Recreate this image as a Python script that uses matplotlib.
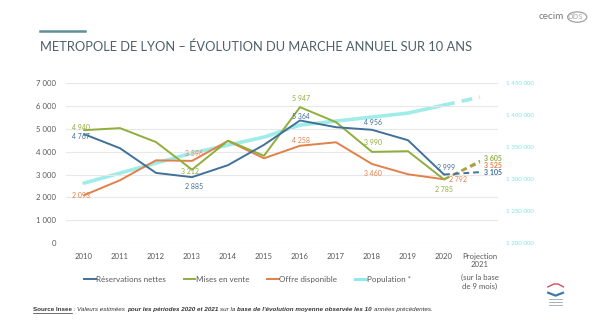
import matplotlib
matplotlib.use("Agg")
import matplotlib.pyplot as plt
from matplotlib.lines import Line2D
from matplotlib.ticker import FuncFormatter

plt.rcParams['font.family'] = ['Lato', 'DejaVu Sans']

# Données annuelles Métropole de Lyon
categories = ['2010', '2011', '2012', '2013', '2014', '2015', '2016', '2017',
              '2018', '2019', '2020', 'Projection\n2021']
reservations = [4767, 4150, 3070, 2885, 3410, 4300, 5364, 5070, 4956, 4500, 2999, 3105]
mises_en_vente = [4940, 5030, 4420, 3212, 4480, 3820, 5947, 5290, 3990, 4020, 2785, 3605]
offre = [2093, 2750, 3620, 3596, 4470, 3710, 4258, 4410, 3460, 3010, 2792, 3525]
population = [1293700, 1309400, 1325000, 1340600, 1353100, 1365600, 1384400,
              1390600, 1396900, 1403100, 1415600, 1428100]

c_res = '#41709a'
c_mev = '#8fae3c'
c_off = '#e2804a'
c_pop = '#8fe9e6'
c_txt = '#595959'

fig = plt.figure(figsize=(6.0, 3.22), dpi=100)
fig.patch.set_facecolor('white')
ax = fig.add_axes([0.11, 0.245, 0.72, 0.497])
ax2 = ax.twinx()

x = list(range(len(categories)))
hist = slice(0, 11)
proj = slice(10, 12)


def draw_series(axis, vals, color, lw, alpha=1.0):
    axis.plot(x[hist], vals[hist], color=color, lw=lw, alpha=alpha,
              solid_capstyle='round', solid_joinstyle='round')
    axis.plot(x[proj], vals[proj], color=color, lw=lw, alpha=alpha, ls=(0, (3, 2)))


draw_series(ax2, population, c_pop, 2.6, 0.85)
draw_series(ax, offre, c_off, 1.4)
draw_series(ax, mises_en_vente, c_mev, 1.4)
draw_series(ax, reservations, c_res, 1.4)

ax.set_xlim(-0.5, 11.5)
ax.set_ylim(0, 7000)
ax2.set_ylim(1200000, 1450000)
ax.set_yticks(range(0, 7001, 1000))
ax2.set_yticks(range(1200000, 1450001, 50000))


def fmt_space(v, pos=None):
    return f"{int(v):,}".replace(',', ' ')


ax.yaxis.set_major_formatter(FuncFormatter(fmt_space))
ax2.yaxis.set_major_formatter(FuncFormatter(fmt_space))
ax.set_xticks(x)
ax.set_xticklabels(categories, linespacing=1.2)

ax.grid(axis='y', color='#e8e8e8', lw=0.8)
ax.set_axisbelow(True)
for a in (ax, ax2):
    for s in a.spines.values():
        s.set_visible(False)
ax.tick_params(axis='both', length=0, labelsize=5.6, labelcolor=c_txt)
ax.tick_params(axis='y', pad=7)
ax.tick_params(axis='x', pad=7)
ax2.tick_params(axis='y', length=0, labelsize=4.4, labelcolor='#7fe3e3', pad=6)
ax.set_zorder(ax2.get_zorder() + 1)
ax.patch.set_visible(False)

ax.text(x[11], -1350, "(sur la base\nde 9 mois)", ha='center', va='top',
        fontsize=5.6, color=c_txt, linespacing=1.25)

# étiquettes de valeurs
fs = 5.0
def lab(i, vals, color, dx, dy, bold=False):
    ax.annotate(fmt_space(vals[i]), (x[i], vals[i]), xytext=(dx, dy),
                textcoords='offset points', ha='left', va='center', fontsize=fs,
                color=color, fontweight='bold' if bold else 'normal')

lab(0, mises_en_vente, c_mev, -9, 2)
lab(0, reservations, c_res, -9, -1.5)
lab(0, offre, c_off, -9, 0)
lab(3, offre, c_off, -5, 5)
lab(3, mises_en_vente, c_mev, -8, -1)
lab(3, reservations, c_res, -5, -7)
lab(6, mises_en_vente, c_mev, -6, 6)
lab(6, reservations, c_res, -6, 3)
lab(6, offre, c_off, -6, 4)
lab(8, reservations, c_res, -6, 5)
lab(8, mises_en_vente, c_mev, -6, 6.5)
lab(8, offre, c_off, -6, -6.5)
lab(10, reservations, c_res, -5, 5.3)
lab(10, offre, c_off, 3.5, 0)
lab(10, mises_en_vente, c_mev, -6.5, -7)
lab(11, mises_en_vente, c_mev, 3, 1.5, bold=True)
lab(11, offre, c_off, 3, -2.5, bold=True)
lab(11, reservations, c_res, 3, 0, bold=True)

# légende
handles = [Line2D([], [], color=c_res, lw=1.4),
           Line2D([], [], color=c_mev, lw=1.4),
           Line2D([], [], color=c_off, lw=1.4),
           Line2D([], [], color=c_pop, lw=2.2)]
labels = ['Réservations nettes', 'Mises en vente', 'Offre disponible', 'Population *']
fig.legend(handles, labels, loc='center', bbox_to_anchor=(0.413, 0.133), ncol=4,
           frameon=False, fontsize=5.8, labelcolor=c_txt, handlelength=1.4,
           handletextpad=0.1, columnspacing=2.2)

# titre
fig.add_artist(Line2D([0.067, 0.142], [0.905, 0.905], color='#5f8f99', lw=1.8))
fig.text(0.067, 0.855, "METROPOLE DE LYON – ÉVOLUTION DU MARCHE ANNUEL SUR 10 ANS",
         fontsize=9.3, color='#4f6068', va='center', ha='left')

# logo
fig.text(0.898, 0.950, "cecim", fontsize=7.2, color='#7a7a7a', ha='left', va='center')
fig.text(0.946, 0.950, "obs", fontsize=7.2, color='#b5b5b5', ha='left', va='center')
fig.add_artist(plt.Circle((0.962, 0.947), 0.016, transform=fig.transFigure,
                          fill=False, ec='#a0a0a0', lw=0.9))

# petit logo fédération
fig.add_artist(plt.Polygon([[0.912, 0.108], [0.923, 0.118], [0.930, 0.118], [0.940, 0.108]],
                           closed=False, fill=False, ec='#d0505c', lw=1.0,
                           transform=fig.transFigure))
fig.add_artist(plt.Polygon([[0.912, 0.092], [0.926, 0.082], [0.940, 0.092]],
                           closed=False, fill=False, ec='#3f78a8', lw=1.6,
                           transform=fig.transFigure))
for yy in (0.072, 0.062, 0.052):
    fig.add_artist(Line2D([0.915, 0.937], [yy, yy], color='#9aa4b0', lw=0.6))

# note de source, segments aux styles mélangés
segments = [
    ("Source Insee", 'normal', 'bold'),
    (" : ", 'italic', 'normal'),
    ("Valeurs estimées ", 'italic', 'normal'),
    ("pour les périodes 2020 et 2021 ", 'italic', 'bold'),
    ("sur la ", 'italic', 'normal'),
    ("base de l'évolution moyenne observée les 10 ", 'italic', 'bold'),
    ("années précédentes.", 'italic', 'normal'),
]
renderer = fig.canvas.get_renderer()
xpos = 33 / 600
ypos = 0.034
first_end = None
for txt, style, weight in segments:
    t = fig.text(xpos, ypos, txt, fontsize=4.5, style=style, fontweight=weight,
                 color='#333333', ha='left', va='baseline',
                 family=['Liberation Sans', 'DejaVu Sans'])
    bb = t.get_window_extent(renderer=renderer)
    if first_end is None:
        first_end = bb.x1 / fig.bbox.width
    xpos = bb.x1 / fig.bbox.width
fig.add_artist(Line2D([33 / 600, first_end], [ypos - 0.007, ypos - 0.007],
                      color='#333333', lw=0.5))

fig.savefig('out.png', dpi=100, facecolor='white')
